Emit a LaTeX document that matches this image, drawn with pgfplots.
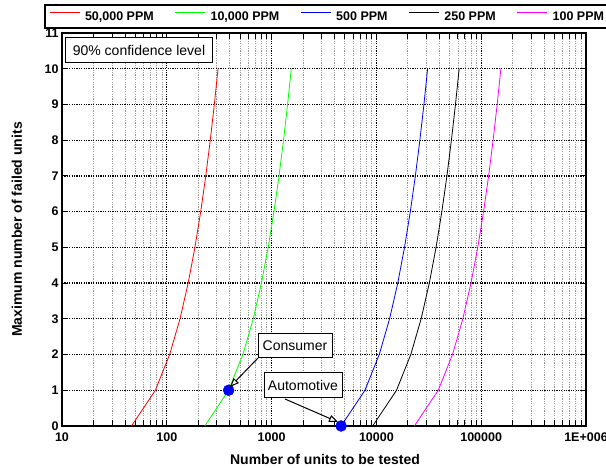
\documentclass[border=0pt]{standalone}
\usepackage{fontspec}
\setmainfont{Liberation Sans}
\usepackage{pgfplots}
\pgfplotsset{compat=1.18}
\usetikzlibrary{arrows.meta}
\definecolor{mag}{RGB}{255,0,255}
\definecolor{grn}{RGB}{0,255,0}
\definecolor{blu}{RGB}{0,0,255}
\begin{document}
\begin{tikzpicture}[x=1pt,y=1pt]
\useasboundingbox (-62,-42) rectangle (544,426);
\begin{axis}[
  scale only axis, width=524pt, height=393pt,
  xmode=log, xmin=10, xmax=1000000, ymin=0, ymax=11,
  xtick={10,100,1000,10000,100000,1000000},
  xticklabels={10,100,1000,10000,100000,1E+006},
  minor xtick={20,30,40,50,60,70,80,90,200,300,400,500,600,700,800,900,2000,3000,4000,5000,6000,7000,8000,9000,20000,30000,40000,50000,60000,70000,80000,90000,200000,300000,400000,500000,600000,700000,800000,900000},
  ytick={0,1,2,3,4,5,6,7,8,9,10,11},
  yticklabels={0,1,2,3,4,5,6,7,8,9,10,11},
  ticklabel style={font=\fontsize{12.5}{14}\selectfont\bfseries},
  xticklabel style={yshift=-3pt},
  grid=both,
  major x grid style={black, line width=1pt, dash pattern=on 1.2pt off 1.2pt},
  minor x grid style={gray!80, line width=0.9pt, dash pattern=on 1.2pt off 1.2pt},
  major y grid style={black, line width=1.3pt, dash pattern=on 1.2pt off 1.2pt},
  axis line style={line width=1.6pt},
  tick style={black, line width=1pt},
  major tick length=6pt, minor tick length=6pt,
  clip=false,
  legend columns=5,
  legend image code/.code={\draw[#1] (0pt,4.3pt) -- (30pt,4.3pt); \path (0pt,0pt);},
  legend style={draw=none, fill=none, inner sep=0pt,
    font=\fontsize{12.5}{14}\selectfont\bfseries,
    at={(axis description cs:-0.0248,1.042)}, anchor=west,
    nodes={inner sep=0pt},
    /tikz/every odd column/.append style={column sep=5pt},
    /tikz/every even column/.append style={column sep=21pt}},
]
\addplot[red, line width=0.8pt] coordinates {(46.05,0) (77.79,1) (106.45,2) (133.62,3) (159.87,4) (185.49,5) (210.64,6) (235.42,7) (259.89,8) (284.12,9) (308.13,10)};
\addlegendentry{50,000 PPM}
\addplot[grn, line width=0.8pt] coordinates {(230.3,0) (389.0,1) (532.2,2) (668.1,3) (799.4,4) (927.5,5) (1053.2,6) (1177.1,7) (1299.5,8) (1420.6,9) (1540.7,10)};
\addlegendentry{10,000 PPM}
\addplot[blu, line width=0.8pt] coordinates {(4605,0) (7779,1) (10645,2) (13362,3) (15987,4) (18549,5) (21064,6) (23542,7) (25989,8) (28412,9) (30813,10)};
\addlegendentry{500 PPM}
\addplot[black, line width=0.8pt] coordinates {(9210,0) (15559,1) (21290,2) (26724,3) (31974,4) (37098,5) (42128,6) (47084,7) (51978,8) (56824,9) (61626,10)};
\addlegendentry{250 PPM}
\addplot[mag, line width=0.8pt] coordinates {(23026,0) (38897,1) (53225,2) (66810,3) (79935,4) (92745,5) (105320,6) (117710,7) (129945,8) (142060,9) (154065,10)};
\addlegendentry{100 PPM}
\addplot[only marks, mark=*, mark size=5.5pt, blu, mark options={fill=blu}, forget plot] coordinates {(389,1) (4605,0)};
\end{axis}
% legend frame
\draw[line width=1.3pt] (-17,398) rectangle (560,421);
% axis labels
\node[anchor=base, font=\fontsize{14}{16}\selectfont\bfseries] at (263,-39) {Number of units to be tested};
\node[rotate=90, anchor=base, font=\fontsize{14}{16}\selectfont\bfseries] at (-40,196.5) {Maximum number of failed units};
% annotations
\node[draw, line width=1pt, fill=white, minimum width=146pt, minimum height=25pt, inner sep=0pt, font=\fontsize{14}{16}\selectfont] at (77,375.5) {90\% confidence level};
\node[draw, line width=1pt, fill=white, minimum width=74pt, minimum height=24pt, inner sep=0pt, font=\fontsize{14}{16}\selectfont] at (233,80) {Consumer};
\node[draw, line width=1pt, fill=white, minimum width=78pt, minimum height=25pt, inner sep=0pt, font=\fontsize{14}{16}\selectfont] at (241,40.5) {Automotive};
\draw[line width=1pt, -{Triangle[length=9pt, width=7pt, fill=white]}] (196,68) -- (168,39);
\draw[line width=1pt, -{Triangle[length=9pt, width=7pt, fill=white]}] (223,27) -- (276,4);
\end{tikzpicture}
\end{document}
